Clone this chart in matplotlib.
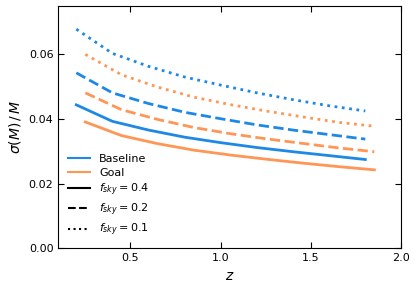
import matplotlib
matplotlib.use("Agg")
import matplotlib.pyplot as plt
from matplotlib.lines import Line2D

plt.rcParams["mathtext.fontset"] = "dejavusans"
plt.rcParams["font.size"] = 8

# redshift bins (goal shifted a bit for visibility)
z_base = [0.2, 0.4, 0.6, 0.8, 1.0, 1.2, 1.4, 1.6, 1.8]
z_goal = [0.25, 0.45, 0.65, 0.85, 1.05, 1.25, 1.45, 1.65, 1.85]

# sigma(M)/M, baseline
base_04 = [0.0444, 0.0393, 0.0366, 0.0344, 0.0327, 0.0312, 0.0299, 0.0287, 0.0275]
base_02 = [0.0543, 0.0481, 0.0448, 0.0421, 0.0401, 0.0382, 0.0366, 0.0352, 0.0338]
base_01 = [0.0678, 0.0603, 0.0563, 0.0530, 0.0505, 0.0481, 0.0460, 0.0441, 0.0425]

# sigma(M)/M, goal
goal_04 = [0.0391, 0.0349, 0.0324, 0.0304, 0.0289, 0.0276, 0.0264, 0.0253, 0.0243]
goal_02 = [0.0481, 0.0429, 0.0399, 0.0374, 0.0355, 0.0339, 0.0325, 0.0311, 0.0299]
goal_01 = [0.0600, 0.0537, 0.0499, 0.0468, 0.0445, 0.0425, 0.0407, 0.0390, 0.0378]

fsky = ["0.4", "0.2", "0.1"]
styles = ["-", "--", ":"]

blue = "#1e88e5"
orange = "#ff9655"

fig, ax = plt.subplots(figsize=(4.16, 2.94), dpi=100)
fig.subplots_adjust(left=0.14, right=0.965, top=0.98, bottom=0.155)

for ys, ls in zip([base_04, base_02, base_01], styles):
    ax.plot(z_base, ys, color=blue, ls=ls, lw=2)
for ys, ls in zip([goal_04, goal_02, goal_01], styles):
    ax.plot(z_goal, ys, color=orange, ls=ls, lw=2)

ax.set_xlim(0.1, 2.0)
ax.set_ylim(0, 0.075)
ax.set_xticks([0.5, 1.0, 1.5, 2.0])
ax.set_yticks([0.0, 0.02, 0.04, 0.06])
ax.set_yticklabels(["0.00", "0.02", "0.04", "0.06"])
ax.tick_params(direction="in", top=True, right=True, length=4, labelsize=8)
ax.set_xlabel(r"$z$", fontsize=10)
ax.set_ylabel(r"$\sigma(M)\,/\,M$", fontsize=10)

handles = [Line2D([], [], color=blue, lw=1.5), Line2D([], [], color=orange, lw=1.5)]
labels = ["Baseline", "Goal"]
for f, ls in zip(fsky, styles):
    handles.append(Line2D([], [], color="k", ls=ls, lw=1.5))
    labels.append(r"$f_{sky} = %s$" % f)
ax.legend(handles, labels, loc="lower left", frameon=False, fontsize=8,
          handlelength=2, labelspacing=0.35, borderaxespad=0.5)

fig.savefig("out.png", dpi=100)
